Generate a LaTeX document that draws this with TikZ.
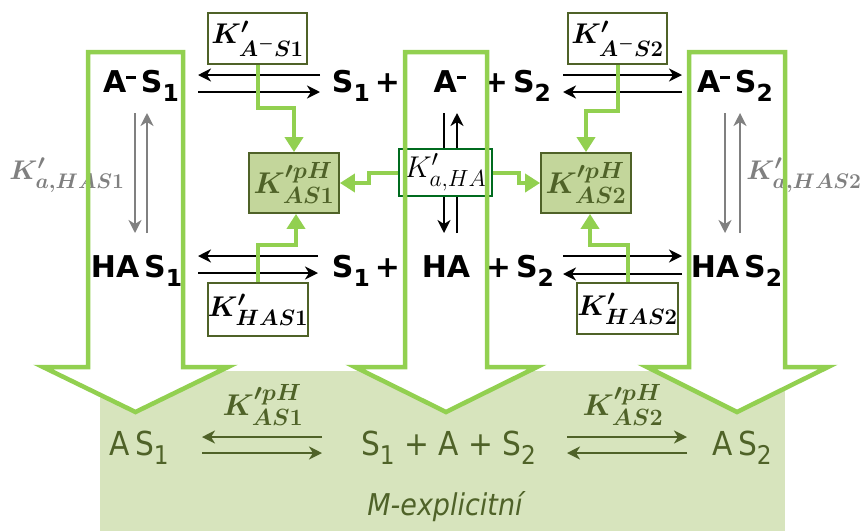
\RequirePackage{fix-cm}
\documentclass[tikz,border=0pt]{standalone}
\usepackage[no-math]{fontspec}
\usepackage{amsmath}
\usepackage{bm}
\usepackage{graphicx}
\setmainfont{DejaVu Sans Condensed}
\newfontfamily\blkfont{DejaVu Sans}
\renewcommand\defaultscriptratio{.78}
\renewcommand\defaultscriptscriptratio{.6}
\usetikzlibrary{arrows.meta,calc}
\definecolor{lg}{HTML}{92D050}
\definecolor{olv}{HTML}{4F6228}
\definecolor{bgg}{HTML}{D7E4BD}
\definecolor{bxg}{HTML}{C3D69B}
\definecolor{dkg}{HTML}{006B1E}
\definecolor{gry}{HTML}{808080}
\newcommand\sbn[1]{\raisebox{-0.3em}{\scalebox{0.78}{#1}}}
\newcommand\mns{\rule[0.45em]{0.32em}{0.08em}}
\tikzset{
  txt/.style={font=\blkfont\bfseries\fontsize{30}{32}\selectfont, inner sep=0pt, anchor=base},
  btxt/.style={text=olv, font=\fontsize{33}{36}\selectfont, inner sep=0pt, anchor=base},
  kbox/.style={draw=olv, line width=1.8pt, fill=white, inner sep=0pt, minimum width=99pt, minimum height=51pt, font=\fontsize{28.5}{32}\selectfont},
  pbox/.style={draw=olv, line width=1.8pt, fill=bxg, text=olv, inner sep=0pt, minimum width=90pt, minimum height=60pt, font=\fontsize{30}{34}\selectfont},
  abox/.style={draw=dkg, line width=1.5pt, fill=white, inner sep=0pt, minimum width=93pt, minimum height=47pt, font=\fontsize{30}{34}\selectfont},
  glab/.style={text=gry, inner sep=0pt, font=\fontsize{27}{30}\selectfont},
  blab/.style={text=olv, inner sep=0pt, font=\fontsize{30}{32}\selectfont},
  rx/.style={line width=2.6pt, -{Stealth[length=13pt,width=13pt,inset=4pt]}},
  grx/.style={rx, draw=gry, line width=2.8pt},
  orx/.style={rx, draw=olv, line width=2.4pt},
  glink/.style={draw=lg, line width=4pt, -{Triangle[length=15pt,width=18pt]}},
  blockarr/.style={draw=lg, line width=4.5pt, line join=miter},
}
\begin{document}
\begin{tikzpicture}[x=1pt,y=-1pt]
\useasboundingbox (0,0) rectangle (866,531);
% background panel
\fill[bgg] (100,371) rectangle (785,531);
% block arrows (white fill)
\fill[white] (88,52) -- (183,52) -- (183,367) -- (228,367) -- (135.5,412) -- (43,367) -- (88,367) -- cycle;
\fill[white] (405,52) -- (487,52) -- (487,367) -- (537,367) -- (446,412) -- (355,367) -- (405,367) -- cycle;
\fill[white] (689,52) -- (785,52) -- (785,367) -- (828,367) -- (737,412) -- (647,367) -- (689,367) -- cycle;

% species text
\node[txt] (as1) at (141,92) {A\mns\,S\sbn{1}};
\node[txt] (s1a) at (366,92) {S\sbn{1}\,+};
\node[txt] (am) at (450,92) {A\mns};
\node[txt] (s2a) at (517,92) {+\,S\sbn{2}};
\node[txt] (as2) at (735,92) {A\mns\,S\sbn{2}};
\node[txt] (has1) at (136.5,277) {HA\,S\sbn{1}};
\node[txt] (s1b) at (366,277) {S\sbn{1}\,+};
\node[txt] (ha) at (446,277) {HA};
\node[txt] (s2b) at (520,277) {+\,S\sbn{2}};
\node[txt] (has2) at (736.5,277) {HA\,S\sbn{2}};

% reaction arrows row 1
\draw[rx] ($(s1a.base)+(-46,-17)$) -- ($(as1.base)+(57,-17)$);
\draw[rx] ($(as1.base)+(57,0)$) -- ($(s1a.base)+(-46,0)$);
\draw[rx] ($(s2a.base)+(46,-17)$) -- ($(as2.base)+(-53,-17)$);
\draw[rx] ($(as2.base)+(-53,0)$) -- ($(s2a.base)+(46,0)$);
% row 2
\draw[rx] ($(s1b.base)+(-48,-21)$) -- ($(has1.base)+(61.5,-21)$);
\draw[rx] ($(has1.base)+(61.5,-4)$) -- ($(s1b.base)+(-48,-4)$);
\draw[rx] ($(s2b.base)+(43,-21)$) -- ($(has2.base)+(-54.5,-21)$);
\draw[rx] ($(has2.base)+(-54.5,-3)$) -- ($(s2b.base)+(43,-3)$);
% middle vertical
\draw[rx] ($(am.base)+(-6,21)$) -- ($(ha.base)+(-2,-44)$);
\draw[rx] ($(ha.base)+(11,-44)$) -- ($(am.base)+(7,21)$);
% gray verticals
\draw[grx] ($(as1.base)+(-6,21)$) -- ($(has1.base)+(-1.5,-44)$);
\draw[grx] ($(has1.base)+(10.5,-44)$) -- ($(as1.base)+(6,21)$);
\draw[grx] ($(as2.base)+(-10,21)$) -- ($(has2.base)+(-11.5,-44)$);
\draw[grx] ($(has2.base)+(3.5,-44)$) -- ($(as2.base)+(5,21)$);

% gray labels
\node[glab] (kh1g) at (67,175) {$\bm{K'_{a,HAS1}}$};
\node[glab] (kh2g) at (804,175) {$\bm{K'_{a,HAS2}}$};

% constant boxes
\node[kbox] (ka1) at (257.5,38.5) {$\bm{K'_{A^-S1}}$};
\node[kbox] (ka2) at (617.5,38.5) {$\bm{K'_{A^-S2}}$};
\node[kbox, minimum width=98pt, minimum height=53pt] (kh1) at (258,309.5) {$\bm{K'_{HAS1}}$};
\node[kbox] (kh2) at (627.5,308.5) {$\bm{K'_{HAS2}}$};
\node[pbox] (kp1) at (294,183) {$\bm{K'^{pH}_{AS1}}$};
\node[pbox] (kp2) at (586,183) {$\bm{K'^{pH}_{AS2}}$};
\node[abox] (kaha) at (445.5,172.5) {$K'_{a,HA}$};

% green links
\draw[glink] (ka1.south) -- ++(0,43) -| (kp1.north);
\draw[glink] (kh1.north) -- ++(0,-37) -| ($(kp1.south)+(2,0)$);
\draw[glink] (ka2.south) -- ++(0,46) -| (kp2.north);
\draw[glink] (kh2.north) -- ++(0,-37) -| ($(kp2.south)+(4,0)$);
\draw[glink] (kaha.west) -- ++(-29,0) |- (kp1.east);
\draw[glink] (kaha.east) -- ++(26,0) |- (kp2.west);

% block arrow outlines
\draw[blockarr] (88,52) -- (183,52) -- (183,367) -- (228,367) -- (135.5,412) -- (43,367) -- (88,367) -- cycle;
\draw[blockarr] (405,52) -- (487,52) -- (487,367) -- (537,367) -- (446,412) -- (355,367) -- (405,367) -- cycle;
\draw[blockarr] (689,52) -- (785,52) -- (785,367) -- (828,367) -- (737,412) -- (647,367) -- (689,367) -- cycle;

% bottom panel content
\node[btxt] (bas1) at (139,455) {A\,S\sbn{1}};
\node[btxt] (bmid) at (448.5,455) {S\sbn{1} + A + S\sbn{2}};
\node[btxt] (bas2) at (742,455) {A\,S\sbn{2}};
\draw[orx] ($(bmid.base)+(-126.5,-18)$) -- ($(bas1.base)+(63,-18)$);
\draw[orx] ($(bas1.base)+(63,-2)$) -- ($(bmid.base)+(-126.5,-2)$);
\draw[orx] ($(bmid.base)+(118.5,-18)$) -- ($(bas2.base)+(-55,-18)$);
\draw[orx] ($(bas2.base)+(-55,-2)$) -- ($(bmid.base)+(118.5,-2)$);
\node[blab] (bk1) at (263,405) {$\bm{K'^{pH}_{AS1}}$};
\node[blab] (bk2) at (623,405) {$\bm{K'^{pH}_{AS2}}$};
\node[text=olv, font=\itshape\fontsize{30}{32}\selectfont, inner sep=0pt] (mexp) at (445,507) {M-explicitní};
\end{tikzpicture}
\end{document}
